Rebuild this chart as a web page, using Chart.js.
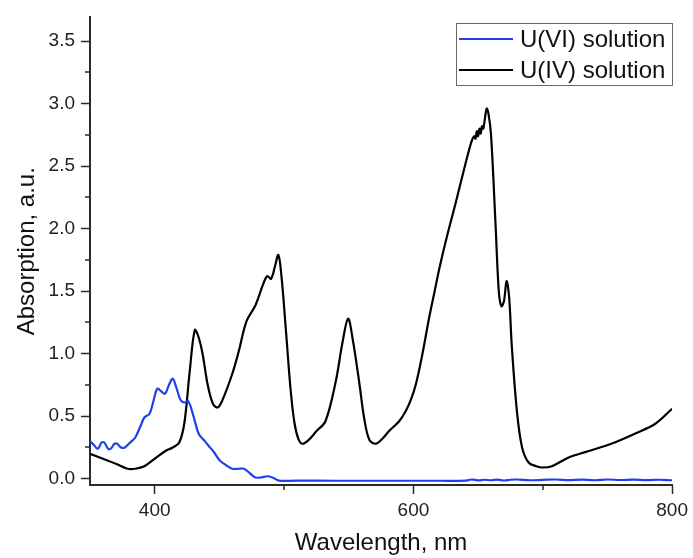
<!DOCTYPE html>
<html>
<head>
<meta charset="utf-8">
<script src="https://cdn.jsdelivr.net/npm/chart.js@4/dist/chart.umd.min.js"></script>
<style>
html,body{margin:0;padding:0;background:#fff;}
#wrap{width:693px;height:558px;position:relative;}
</style>
</head>
<body>
<div id="wrap"><canvas id="c" width="693" height="558"></canvas></div>
<script>
// ---- Data ----
const SERIES_NAMES = ["U(VI) solution", "U(IV) solution"];

const U6_WAVELENGTH = [350,353,356,359,361,364,366,369,371,374,377,381,385,389,392,396,399,402,405,408,411,414,417,420,423,426,430,434,438,442,446,450,455,460,465,469,474,478,482,487,491,496,510,540,580,620,640,645,650,655,660,665,670,675,680,690,700,710,720,730,740,750,760,770,780,790,800];
const U6_ABSORPTION = [0.30,0.27,0.24,0.29,0.29,0.24,0.24,0.28,0.28,0.25,0.25,0.29,0.33,0.42,0.49,0.52,0.62,0.72,0.70,0.68,0.75,0.80,0.72,0.63,0.61,0.62,0.50,0.36,0.31,0.26,0.21,0.15,0.11,0.08,0.08,0.08,0.04,0.01,0.01,0.02,0.01,-0.015,-0.015,-0.016,-0.016,-0.016,-0.015,-0.006,-0.013,-0.008,-0.012,-0.007,-0.014,-0.008,-0.006,-0.012,-0.009,-0.006,-0.011,-0.007,-0.012,-0.006,-0.010,-0.007,-0.011,-0.008,-0.012];

const U4_WAVELENGTH = [350,360,370,379,385,392,400,408,414,419,423,427,431,434,437,441,445,448.5,452,460,465,471,478,484,487,490,493,495.6,498,501.5,505,508,511,514,519,525,532,540,545,549.5,553,558,562,566,571,576,581,589,594,598,602,607,612,616,620,625,633,640,645,647,648,649,650,651,652,653,654,655,656.6,658,660,663.5,666,668,670,672,674,676,680,684,689,695,700,707,720,735,753,771,787,800];
const U4_ABSORPTION = [0.20,0.16,0.12,0.08,0.08,0.10,0.16,0.22,0.25,0.29,0.45,0.85,1.19,1.13,1.00,0.75,0.60,0.57,0.62,0.84,1.02,1.26,1.39,1.56,1.62,1.60,1.70,1.79,1.62,1.18,0.72,0.45,0.32,0.28,0.31,0.38,0.46,0.78,1.08,1.28,1.12,0.78,0.48,0.31,0.28,0.32,0.38,0.46,0.54,0.63,0.76,1.00,1.28,1.48,1.68,1.90,2.22,2.51,2.70,2.74,2.72,2.78,2.74,2.80,2.76,2.82,2.80,2.86,2.96,2.92,2.75,2.03,1.50,1.38,1.42,1.58,1.45,1.07,0.54,0.25,0.13,0.10,0.09,0.10,0.17,0.22,0.28,0.36,0.44,0.56];

const X_MAJOR_TICKS = [400, 600, 800];
const X_MINOR_TICKS = [500, 700];
const Y_MAJOR_TICKS = [0, 0.5, 1.0, 1.5, 2.0, 2.5, 3.0, 3.5];
const Y_MINOR_TICKS = [0.25, 0.75, 1.25, 1.75, 2.25, 2.75, 3.25];

const X_TITLE = "Wavelength, nm";
const Y_TITLE = "Absorption, a.u.";

// ---- Styles ----
const COLORS = ["#2040ee", "#000000"];
const FONT = "'Liberation Sans', Arial, sans-serif";
const AXIS_COLOR = "#2a2a2a";

function pts(xs, ys){ return xs.map((x,i)=>({x:x, y:ys[i]})); }

const minorTicks = {
  id: 'minorTicks',
  afterDraw(chart){
    const ctx = chart.ctx;
    const xs = chart.scales.x, ys = chart.scales.y;
    ctx.save();
    ctx.strokeStyle = AXIS_COLOR;
    ctx.lineWidth = 1.5;
    ctx.beginPath();
    X_MINOR_TICKS.forEach(v=>{
      const px = Math.round(xs.getPixelForValue(v));
      ctx.moveTo(px, ys.bottom); ctx.lineTo(px, ys.bottom + 5);
    });
    Y_MINOR_TICKS.forEach(v=>{
      const py = Math.round(ys.getPixelForValue(v));
      ctx.moveTo(xs.left, py); ctx.lineTo(xs.left - 5, py);
    });
    ctx.stroke();
    ctx.restore();
  }
};

const boxLegend = {
  id: 'boxLegend',
  afterDraw(chart){
    const ctx = chart.ctx;
    const bx = 456, by = 23, bw = 216, bh = 62;
    ctx.save();
    ctx.fillStyle = '#fff';
    ctx.fillRect(bx, by, bw, bh);
    ctx.strokeStyle = '#666';
    ctx.lineWidth = 1;
    ctx.strokeRect(bx + 0.5, by + 0.5, bw, bh);
    ctx.font = "24px " + FONT;
    ctx.textBaseline = 'middle';
    ctx.fillStyle = '#111';
    chart.data.datasets.forEach((ds, i)=>{
      const y = 39 + i * 31;
      ctx.strokeStyle = ds.borderColor;
      ctx.lineWidth = 2;
      ctx.beginPath();
      ctx.moveTo(459, y); ctx.lineTo(513, y);
      ctx.stroke();
      ctx.fillText(ds.label, 520, y + 1);
    });
    ctx.restore();
  }
};

new Chart(document.getElementById('c'), {
  type: 'line',
  data: {
    datasets: [
      { label: SERIES_NAMES[0], data: pts(U6_WAVELENGTH, U6_ABSORPTION), borderColor: COLORS[0], backgroundColor: COLORS[0] },
      { label: SERIES_NAMES[1], data: pts(U4_WAVELENGTH, U4_ABSORPTION), borderColor: COLORS[1], backgroundColor: COLORS[1] }
    ]
  },
  options: {
    responsive: false,
    animation: false,
    layout: { padding: { top: 14, right: 19, bottom: 0, left: 0 } },
    elements: {
      point: { radius: 0 },
      line: { borderWidth: 2.2, tension: 0.35, capBezierPoints: true, borderJoinStyle: 'round' }
    },
    plugins: { legend: { display: false }, tooltip: { enabled: false } },
    scales: {
      x: {
        type: 'linear',
        min: 350, max: 800,
        afterBuildTicks(s){ s.ticks = X_MAJOR_TICKS.map(v=>({value:v})); },
        afterFit(s){ s.height = 73; },
        grid: { drawOnChartArea: false, drawTicks: true, tickLength: 9, tickColor: AXIS_COLOR, tickWidth: 1.5 },
        border: { display: true, color: AXIS_COLOR, width: 2 },
        ticks: { color: '#222', font: { family: FONT, size: 19 }, padding: 5, maxRotation: 0,
                 callback: v => String(v) },
        title: { display: true, text: X_TITLE, color: '#111', font: { family: FONT, size: 24 }, padding: { top: 0, bottom: 0 } }
      },
      y: {
        type: 'linear',
        min: -0.05, max: 3.69,
        afterBuildTicks(s){ s.ticks = Y_MAJOR_TICKS.map(v=>({value:v})); },
        afterFit(s){ s.width = 90; },
        grid: { drawOnChartArea: false, drawTicks: true, tickLength: 9, tickColor: AXIS_COLOR, tickWidth: 1.5 },
        border: { display: true, color: AXIS_COLOR, width: 2 },
        ticks: { color: '#222', font: { family: FONT, size: 19 }, padding: 6,
                 callback: v => Number(v).toFixed(1) },
        title: { display: true, text: Y_TITLE, color: '#111', font: { family: FONT, size: 24 }, padding: { top: 13, bottom: 0 } }
      }
    }
  },
  plugins: [minorTicks, boxLegend]
});
</script>
</body>
</html>
